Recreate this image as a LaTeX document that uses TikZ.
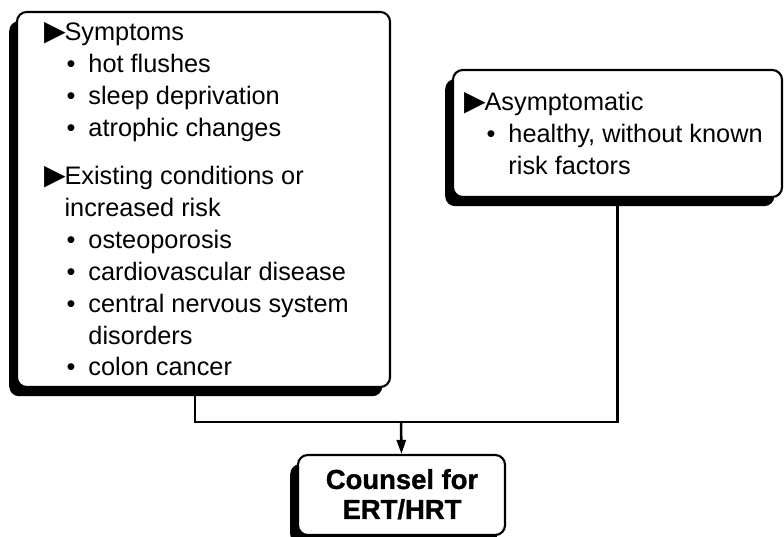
\documentclass[tikz,border=0pt]{standalone}
\usepackage{fontspec}
\setmainfont{Liberation Sans}
\newfontfamily\symfont{DejaVu Sans}
\newfontfamily\heavyfont[FakeBold=1.2]{Liberation Sans Bold}
\usetikzlibrary{positioning,shadows,arrows.meta}

% list helpers
\newcommand{\tri}{\makebox[14.5pt][l]{\symfont\fontsize{20}{20}\selectfont ▶}}
\newcommand{\hditem}[1]{\tri#1}
\newcommand{\hdcont}[1]{\hspace*{14.5pt}#1}
\newcommand{\bitem}[1]{\hspace*{16pt}\makebox[15.5pt][l]{\textbullet}#1}
\newcommand{\bcont}[1]{\hspace*{31.5pt}#1}

\begin{document}
\begin{tikzpicture}[x=0.025cm, y=-0.025cm,
    box/.style={draw, line width=1.5pt, rounded corners=7pt, fill=white,
        drop shadow={shadow xshift=-5.5pt, shadow yshift=-6.5pt, fill=black, opacity=1}},
    txt/.style={inner sep=0pt, font=\fontsize{18}{22.7}\selectfont},
    link/.style={line width=1.8pt},
    flowline/.style={line width=1.8pt, -{Triangle[length=10pt, width=6.5pt]}}]
    \useasboundingbox (0,0) rectangle (784,537);

    % Boxes
    \node[box, minimum width=9.325cm, minimum height=9.375cm] (lbox) at (203.5,199.5) {};
    \node[box, minimum width=8.225cm, minimum height=3.175cm] (rbox) at (617.5,133.5) {};
    \node[box, minimum width=5.175cm, minimum height=2cm] (cbox) at (401.5,495) {};

    % Box texts
    \node[txt, anchor=base west] (ltxt) at ([shift={(28,30)}]lbox.north west) {%
        \begin{tabular}[t]{@{}l@{}}
        \hditem{Symptoms}\\
        \bitem{hot flushes}\\
        \bitem{sleep deprivation}\\
        \bitem{atrophic changes}\\[11.3pt]
        \hditem{Existing conditions or}\\
        \hdcont{increased risk}\\
        \bitem{osteoporosis}\\
        \bitem{cardiovascular disease}\\
        \bitem{central nervous system}\\
        \bcont{disorders}\\
        \bitem{colon cancer}
        \end{tabular}};
    \node[txt, anchor=base west] (rtxt) at ([shift={(12,42)}]rbox.north west) {%
        \begin{tabular}[t]{@{}l@{}}
        \hditem{Asymptomatic}\\
        \bitem{healthy, without known}\\
        \bcont{risk factors}
        \end{tabular}};
    \node[inner sep=0pt, anchor=base, font=\heavyfont\fontsize{19.5}{21.3}\selectfont] (ctxt)
        at ([shift={(0.5,35)}]cbox.north) {%
        \begin{tabular}[t]{@{}c@{}}
        Counsel for\\
        ERT/HRT
        \end{tabular}};

    % Connectors
    \coordinate (jn) at (401,422);
    \draw[link] ([xshift=-6pt]lbox.south) |- (jn) -| (rbox.south);
    \draw[flowline] (jn) -- (cbox.north);
\end{tikzpicture}
\end{document}
